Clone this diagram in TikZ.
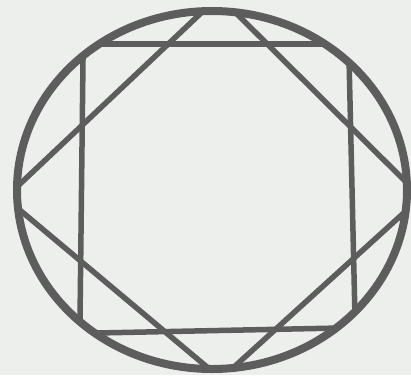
\documentclass[tikz,border=0pt]{standalone}
\usetikzlibrary{calc}
\definecolor{inkGray}{RGB}{93,93,93}
\definecolor{paperGray}{RGB}{237,239,237}
\tikzset{
  rim/.style={draw=inkGray,line width=8pt},
  chord/.style={draw=inkGray,line width=5.5pt},
}
\begin{document}
\begin{tikzpicture}[x=1pt,y=-1pt]
\path[use as bounding box,fill=paperGray] (0,0) rectangle (411,375);
% diamond chords, two points each
\coordinate (nwA) at (200,14);  \coordinate (nwB) at (21,183);
\coordinate (neA) at (237,14);  \coordinate (neB) at (407,183);
\coordinate (seA) at (407,210); \coordinate (seB) at (234,367);
\coordinate (swA) at (207,367); \coordinate (swB) at (21,211);
% square sides
\coordinate (topA) at (103,44);  \coordinate (topB) at (328,44);
\coordinate (rgtA) at (349,58);  \coordinate (rgtB) at (355,318);
\coordinate (botA) at (97,333);  \coordinate (botB) at (340,328);
\coordinate (lftA) at (83,60);   \coordinate (lftB) at (80,320);
\begin{scope}
\clip (212,190) ellipse [x radius=195, y radius=179];
\foreach \p/\q in {nwA/nwB,neA/neB,seA/seB,swA/swB,topA/topB,rgtA/rgtB,botA/botB,lftA/lftB}
  \draw[chord] ($(\p)!-0.5!(\q)$) -- ($(\q)!-0.5!(\p)$);
\end{scope}
\draw[rim] (212,190) ellipse [x radius=195, y radius=179];
\end{tikzpicture}
\end{document}
